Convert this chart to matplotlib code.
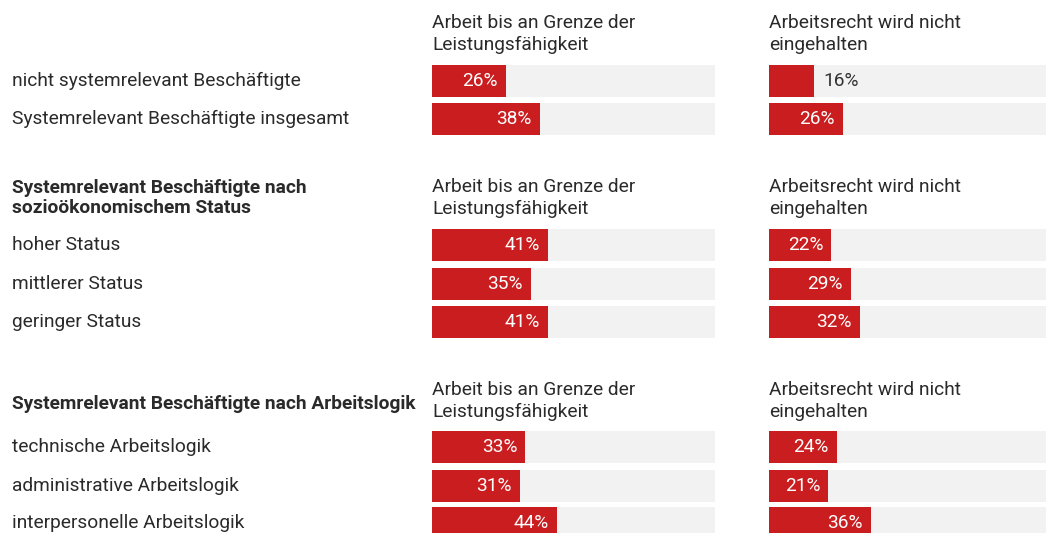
import matplotlib.pyplot as plt

plt.rcParams['font.family'] = ['Roboto', 'DejaVu Sans']

# Daten
labels = ['nicht systemrelevant Beschäftigte', 'Systemrelevant Beschäftigte insgesamt',
          'hoher Status', 'mittlerer Status', 'geringer Status',
          'technische Arbeitslogik', 'administrative Arbeitslogik', 'interpersonelle Arbeitslogik']
grenze = [26, 38, 41, 35, 41, 33, 31, 44]
arbeitsrecht = [16, 26, 22, 29, 32, 24, 21, 36]
gruppen = ['', 'Systemrelevant Beschäftigte nach\nsozioökonomischem Status',
           'Systemrelevant Beschäftigte nach Arbeitslogik']
kopf1 = 'Arbeit bis an Grenze der\nLeistungsfähigkeit'
kopf2 = 'Arbeitsrecht wird nicht\neingehalten'

# Layout (Pixel)
W, H = 1046, 533
row_y = [81, 119, 245, 284, 322, 447, 486, 523]
head_y = [34, 198, 401]
gruppe_y = [34, 198, 404]
rot = '#c91d1f'
grau = '#f2f2f2'
txt = '#2a2a2a'
fs = 13.8

fig = plt.figure(figsize=(W / 100, H / 100), dpi=100)
base = fig.add_axes([0, 0, 1, 1])
base.set_xlim(0, W)
base.set_ylim(H, 0)
base.axis('off')

for lab, y in zip(labels, row_y):
    base.text(12, y, lab, ha='left', va='center', fontsize=fs, color=txt)
for g, y in zip(gruppen, gruppe_y):
    if g:
        base.text(12, y, g, ha='left', va='center', fontsize=fs, color=txt,
                  fontweight='bold', linespacing=1.2)


def spalte(x0, werte, kopf):
    ax = fig.add_axes([x0 / W, 0, 283 / W, 1])
    ax.set_xlim(0, 100)
    ax.set_ylim(H, 0)
    ax.axis('off')
    ax.barh(row_y, [100] * len(row_y), height=32, color=grau)
    ax.barh(row_y, werte, height=32, color=rot)
    for v, y in zip(werte, row_y):
        if v >= 20:
            ax.annotate(f'{v}%', (v, y), xytext=(-8, 0), textcoords='offset pixels',
                        ha='right', va='center', fontsize=fs, color='white')
        else:
            ax.annotate(f'{v}%', (v, y), xytext=(9, 0), textcoords='offset pixels',
                        ha='left', va='center', fontsize=fs, color='#333333')
    for y in head_y:
        ax.text(0, y, kopf, ha='left', va='center', fontsize=fs, color=txt,
                linespacing=1.25)
    return ax


spalte(432, grenze, kopf1)
spalte(769, arbeitsrecht, kopf2)

fig.savefig('out.png', dpi=100)
